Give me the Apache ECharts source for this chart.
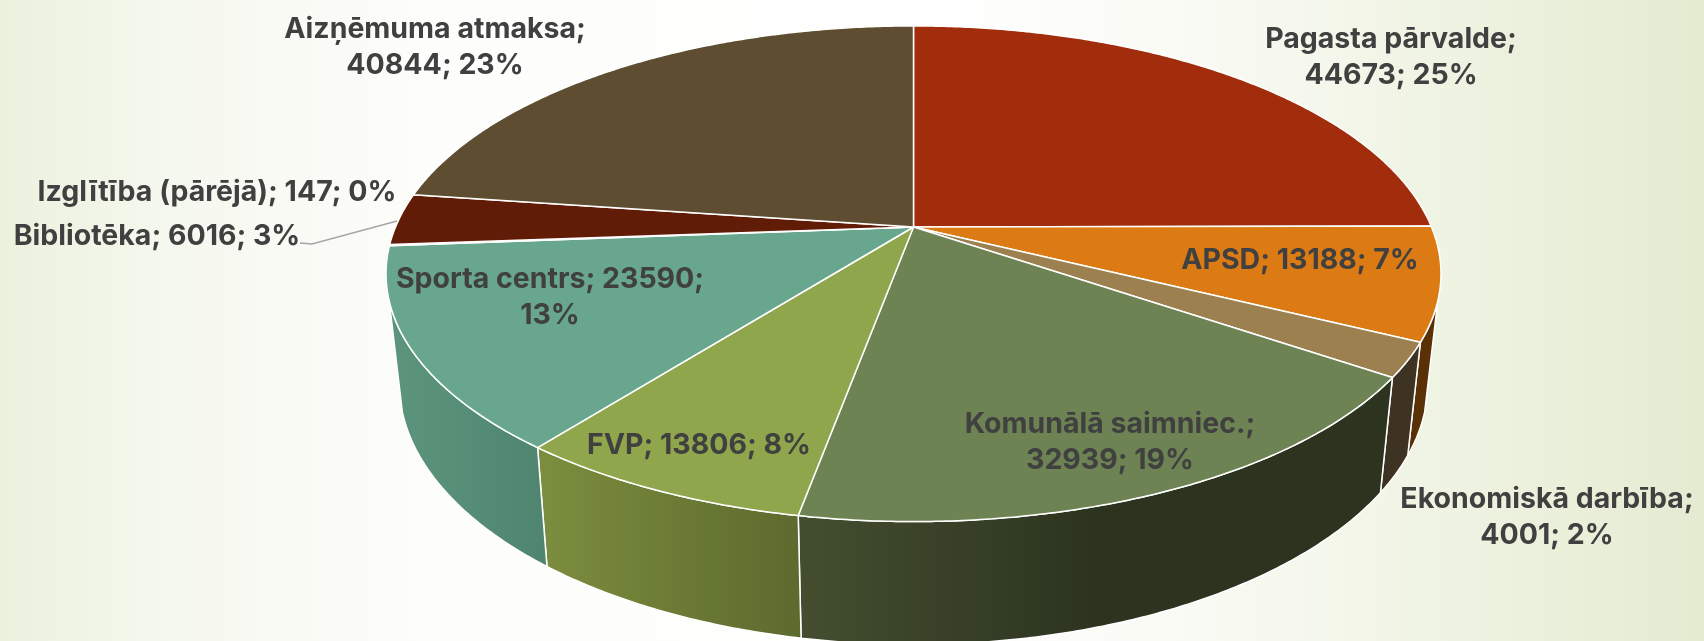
<!DOCTYPE html>
<html>
<head>
<meta charset="utf-8">
<title>Izdevumi</title>
<style>
	html, body { margin: 0; padding: 0; }
	#chart { width: 1704px; height: 641px; }
</style>
<script src="https://cdn.jsdelivr.net/npm/echarts@6/dist/echarts.min.js"></script>
</head>
<body>
<div id="chart"></div>
<script>
	const categories = ['Pagasta pārvalde', 'APSD', 'Ekonomiskā darbība', 'Komunālā saimniec.', 'FVP', 'Sporta centrs', 'Izglītība (pārējā)', 'Bibliotēka', 'Aizņēmuma atmaksa'];
	const values = [44673, 13188, 4001, 32939, 13806, 23590, 147, 6016, 40844];
	const percents = [25, 7, 2, 19, 8, 13, 0, 3, 23];

	const topColors = ['#A22D0C', '#DC7B14', '#9C8050', '#6E8353', '#8FA64C', '#68A78E', '#7a3b12', '#611C07', '#5E4D30'];
	const wallColors = [
		['#7a2009', '#7a2009', 1], ['#5A3006', '#5A3006', 1], ['#3E3322', '#3E3322', 1],
		['#444E2F', '#2C3420', 0.5], ['#7C8E3E', '#5C6A2E', 1], ['#5C957C', '#4F8570', 1],
		['#4a1505', '#4a1505', 1], ['#4a1505', '#4a1505', 1], ['#46391f', '#46391f', 1]
	];

	// label centres, brk: where the line wraps
	const labelLayout = [
		{ x: 1391, y: 39, brk: 'name' },
		{ x: 1300, y: 260 },
		{ x: 1547, y: 499, brk: 'name' },
		{ x: 1110, y: 424, brk: 'name' },
		{ x: 699, y: 445 },
		{ x: 550, y: 279, brk: 'value' },
		{ x: 217, y: 192 },
		{ x: 157, y: 236 },
		{ x: 435, y: 29, brk: 'name' }
	];

	// perspective of the disc
	const cx = 913.5, cy = 227, R = 518, S = 239, k = 0.1886;
	const wallCy = 334, wallSx = 0.975, wallSy = 1.054;
	// the side only shows between the two tangent points
	const wallFrom = 107, wallTo = 253;

	const total = values.reduce((a, b) => a + b, 0);
	const starts = [];
	values.reduce((sum, v, i) => {
		starts[i] = sum / total * 360;
		return sum + v;
	}, 0);

	function rim(deg, bottom) {
		const a = deg * Math.PI / 180;
		const u = Math.sin(a), v = -Math.cos(a), w = 1 - k * v;
		if (bottom) {
			return [cx + wallSx * R * u / w, wallCy + wallSy * S * v / w];
		}
		return [cx + R * u / w, cy + S * v / w];
	}

	function arc(from, to, bottom) {
		const pts = [];
		const n = Math.max(1, Math.ceil((to - from) * 2));
		for (let i = 0; i <= n; i++) {
			pts.push(rim(from + (to - from) * i / n, bottom));
		}
		return pts;
	}

	function renderWall(params, api) {
		const i = api.value(0);
		const a0 = Math.max(starts[i], wallFrom);
		const a1 = Math.min(starts[i] + api.value(1) / total * 360, wallTo);
		if (a1 <= a0) return null;
		const pts = arc(a0, a1, false).concat(arc(a0, a1, true).reverse());
		const c = wallColors[i];
		return {
			type: 'polygon',
			shape: { points: pts },
			style: {
				fill: new echarts.graphic.LinearGradient(0, 0, 1, 0, [
					{ offset: 0, color: c[0] },
					{ offset: c[2], color: c[1] },
					{ offset: 1, color: c[1] }
				]),
				stroke: '#fff',
				lineWidth: 1.5,
				lineJoin: 'round'
			}
		};
	}

	function renderTop(params, api) {
		const i = api.value(0);
		const a0 = starts[i];
		const a1 = a0 + api.value(1) / total * 360;
		return {
			type: 'polygon',
			shape: { points: [[cx, cy]].concat(arc(a0, a1, false)) },
			style: { fill: topColors[i], stroke: '#fff', lineWidth: 1.5, lineJoin: 'round' }
		};
	}

	function labelText(i) {
		const name = categories[i], val = values[i], pct = percents[i] + '%';
		if (labelLayout[i].brk === 'name') return name + ';\n' + val + '; ' + pct;
		if (labelLayout[i].brk === 'value') return name + '; ' + val + ';\n' + pct;
		return name + '; ' + val + '; ' + pct;
	}

	function renderLabel(params, api) {
		const i = api.value(0);
		return {
			type: 'text',
			style: {
				x: labelLayout[i].x,
				y: labelLayout[i].y,
				text: labelText(i),
				align: 'center',
				verticalAlign: 'top',
				fill: '#404040',
				font: 'bold 28.5px Inter',
				lineHeight: 36
			},
			y: -18
		};
	}

	const chart = echarts.init(document.getElementById('chart'));
	const rows = values.map((v, i) => [i, v]);
	chart.setOption({
		animation: false,
		backgroundColor: new echarts.graphic.LinearGradient(0, 0, 1, 0, [
			{ offset: 0, color: '#ecf1de' },
			{ offset: 0.1, color: '#f5f8ee' },
			{ offset: 0.25, color: '#fdfdfb' },
			{ offset: 0.55, color: '#ffffff' },
			{ offset: 0.72, color: '#f8faf2' },
			{ offset: 0.85, color: '#eff3e2' },
			{ offset: 1, color: '#e4ebd1' }
		]),
		graphic: [{
			type: 'polyline',
			z: 5,
			shape: { points: [[300, 243], [312, 244], [397, 221]] },
			style: { stroke: '#A6A6A6', lineWidth: 1.5, fill: null }
		}],
		series: [
			{ type: 'custom', coordinateSystem: 'none', z: 1, data: rows, renderItem: renderWall, silent: true },
			{ type: 'custom', coordinateSystem: 'none', z: 2, data: rows, renderItem: renderTop, silent: true },
			{ type: 'custom', coordinateSystem: 'none', z: 3, data: rows, renderItem: renderLabel, silent: true }
		]
	});
</script>
</body>
</html>
